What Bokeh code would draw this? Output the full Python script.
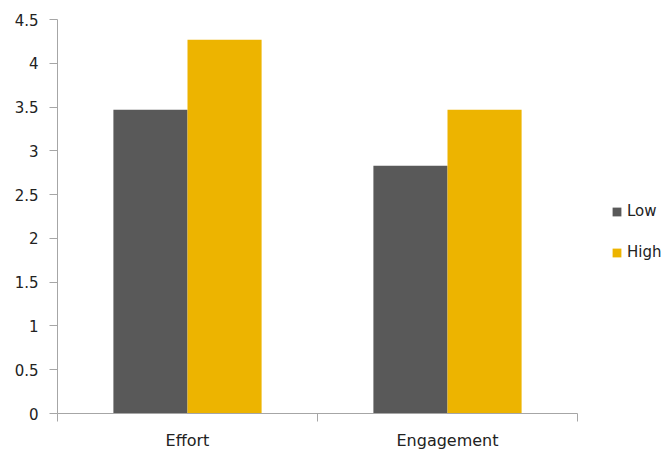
from bokeh.plotting import figure
from bokeh.models import ColumnDataSource, FixedTicker, Range1d, Legend, LegendItem
from bokeh.embed import file_html
from bokeh.resources import INLINE

categories = ["Effort", "Engagement"]
low = [3.47, 2.83]
high = [4.27, 3.47]
y_ticks = [0, 0.5, 1, 1.5, 2, 2.5, 3, 3.5, 4, 4.5]
y_tick_labels = ["0", "0.5", "1", "1.5", "2", "2.5", "3", "3.5", "4", "4.5"]
series_names = ["Low", "High"]
colors = ["#595959", "#EDB400"]

FONT = "DejaVu Sans"
AXIS_COLOR = "#A6A6A6"

n = len(categories)
centers = [i + 0.5 for i in range(n)]
bw = 0.285
src = ColumnDataSource(dict(
    xl=[c - bw / 2 for c in centers],
    xh=[c + bw / 2 for c in centers],
    low=low, high=high,
))

# frame spans to the right edge so the legend can sit in it; axis limited by bounds
p = figure(width=671, height=453, output_backend="svg", toolbar_location=None,
           x_range=Range1d(0, n * 614 / 520), y_range=Range1d(0, 4.5),
           min_border_left=57, min_border_right=0, min_border_top=19, min_border_bottom=40)
p.outline_line_color = None
p.grid.visible = False
p.background_fill_color = "white"
p.border_fill_color = "white"

r_low = p.vbar(x="xl", top="low", width=bw, source=src, fill_color=colors[0], line_color=None)
r_high = p.vbar(x="xh", top="high", width=bw, source=src, fill_color=colors[1], line_color=None)

# x axis: ticks at group boundaries, labels at group centers
p.xaxis.bounds = (0, n)
p.xaxis.ticker = FixedTicker(ticks=centers, minor_ticks=list(range(n + 1)))
p.xaxis.major_label_overrides = {c: cat for c, cat in zip(centers, categories)}
p.xaxis.major_tick_line_color = None
p.xaxis.minor_tick_line_color = AXIS_COLOR
p.xaxis.minor_tick_in = 0
p.xaxis.minor_tick_out = 8
p.xaxis.major_tick_out = 8
p.xaxis.major_tick_in = 0
p.xaxis.axis_line_color = AXIS_COLOR
p.xaxis.major_label_standoff = 9
p.xaxis.major_label_text_font = FONT
p.xaxis.major_label_text_font_size = "16px"
p.xaxis.major_label_text_color = "#222222"

p.yaxis.ticker = FixedTicker(ticks=y_ticks)
p.yaxis.major_label_overrides = {t: l for t, l in zip(y_ticks, y_tick_labels)}
p.yaxis.minor_tick_line_color = None
p.yaxis.major_tick_in = 0
p.yaxis.major_tick_out = 8
p.yaxis.major_tick_line_color = AXIS_COLOR
p.yaxis.axis_line_color = AXIS_COLOR
p.yaxis.major_label_standoff = 11
p.yaxis.major_label_text_font = FONT
p.yaxis.major_label_text_font_size = "15px"
p.yaxis.major_label_text_color = "#222222"

legend = Legend(items=[LegendItem(label=series_names[0], renderers=[r_low]),
                       LegendItem(label=series_names[1], renderers=[r_high])],
                location=(554, 152), orientation="vertical",
                glyph_width=11, glyph_height=11, label_height=14, spacing=23,
                label_standoff=5, padding=0, margin=0,
                label_text_font=FONT, label_text_font_size="15px",
                label_text_color="#222222",
                border_line_color=None, background_fill_alpha=0)
p.add_layout(legend, "center")

open("out.html", "w").write(file_html(p, INLINE))
